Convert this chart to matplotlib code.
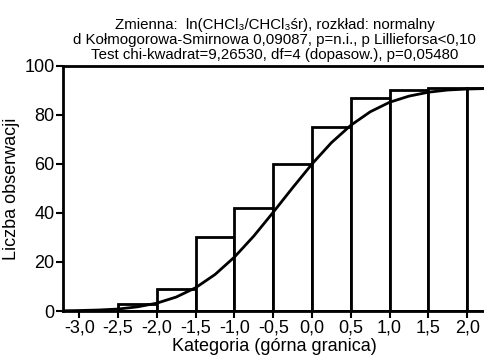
import numpy as np
import matplotlib
matplotlib.use('Agg')
import matplotlib.pyplot as plt

plt.rcParams['font.family'] = ['Liberation Sans', 'DejaVu Sans']

# Cumulative histogram: upper bound of each category and cumulative count
upper_bounds = [-2.0, -1.5, -1.0, -0.5, 0.0, 0.5, 1.0, 1.5, 2.0, 2.5]
cum_counts = [3, 9, 30, 42, 60, 75, 87, 90, 91, 91]
bin_width = 0.5

# Expected (normal) cumulative curve
curve_x = [-3.25, -3.0, -2.75, -2.5, -2.25, -2.0, -1.75, -1.5, -1.25, -1.0, -0.75,
           -0.5, -0.25, 0.0, 0.25, 0.5, 0.75, 1.0, 1.25, 1.5, 1.75, 2.0, 2.25]
curve_y = [0.05, 0.2, 0.4, 0.8, 1.7, 3.2, 5.7, 9.5, 14.9, 22.0, 30.6,
           40.3, 50.3, 60.0, 68.7, 75.8, 81.3, 85.2, 87.7, 89.3, 90.2, 90.6, 90.8]

x_ticks = [-3.0, -2.5, -2.0, -1.5, -1.0, -0.5, 0.0, 0.5, 1.0, 1.5, 2.0]
y_ticks = [0, 20, 40, 60, 80, 100]

title = ("Zmienna:  ln(CHCl\u2083/CHCl\u2083śr), rozkład: normalny\n"
         "d Kołmogorowa-Smirnowa 0,09087, p=n.i., p Lillieforsa<0,10\n"
         "Test chi-kwadrat=9,26530, df=4 (dopasow.), p=0,05480")

fig = plt.figure(figsize=(4.85, 3.59), dpi=100)
ax = fig.add_axes([0.1293, 0.1337, 0.8748, 0.6825])

lefts = [u - bin_width for u in upper_bounds]
ax.bar(lefts, cum_counts, width=bin_width, align='edge', facecolor='white',
       edgecolor='black', linewidth=2.0, zorder=2)
ax.plot(curve_x, curve_y, color='black', linewidth=2.0, zorder=3,
        solid_joinstyle='round')

ax.set_xlim(-3.213, 2.255)
ax.set_ylim(0, 100)
ax.set_xticks(x_ticks)
ax.set_xticklabels([('%.1f' % t).replace('.', ',') for t in x_ticks])
ax.set_yticks(y_ticks)
ax.tick_params(axis='both', labelsize=13, width=1.5, length=5, pad=1)
for s in ax.spines.values():
    s.set_linewidth(2.0)

ax.set_xlabel('Kategoria (górna granica)', fontsize=13, labelpad=1)
ax.set_ylabel('Liczba obserwacji', fontsize=13, labelpad=3)
ax.set_title(title, fontsize=10.8, linespacing=1.08, pad=5)

fig.savefig('out.png', dpi=100)
